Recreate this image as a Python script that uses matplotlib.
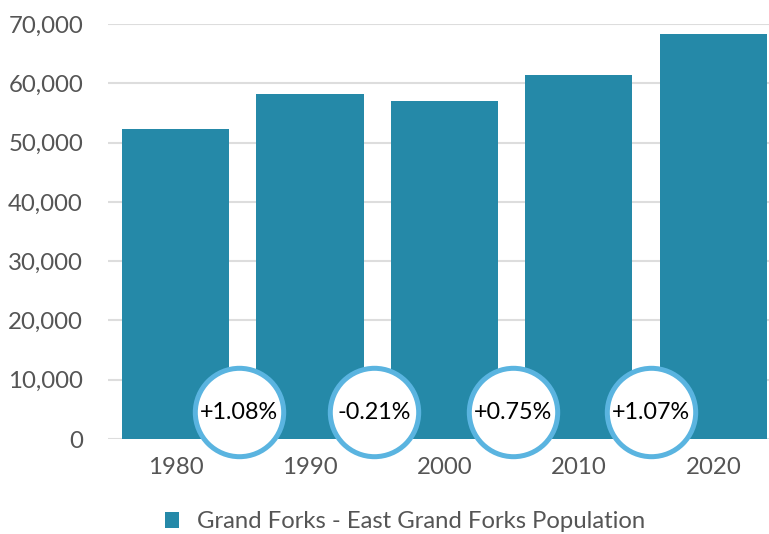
import matplotlib
matplotlib.use("Agg")
import matplotlib.pyplot as plt
from matplotlib.patches import Patch

years = ["1980", "1990", "2000", "2010", "2020"]
population = [52300, 58200, 57000, 61400, 68300]
growth_labels = ["+1.08%", "-0.21%", "+0.75%", "+1.07%"]
yticks = [0, 10000, 20000, 30000, 40000, 50000, 60000, 70000]
series_name = "Grand Forks - East Grand Forks Population"

plt.rcParams['font.family'] = ['Lato', 'DejaVu Sans']

bar_color = "#2589a8"
fig = plt.figure(figsize=(7.69, 5.34), dpi=100)
ax = fig.add_axes([108/769, 1-439/534, 1-108/769, (439-24)/534])

x = list(range(len(years)))
ax.bar(x, population, width=0.796, color=bar_color, zorder=2)
ax.set_ylim(0, 70000)
ax.set_xlim(-0.502, 4.413)
ax.set_yticks(yticks)
ax.set_yticklabels([f"{v:,}" for v in yticks])
ax.set_xticks(x)
ax.set_xticklabels(years)
ax.tick_params(axis='both', length=0, labelsize=17.3, labelcolor="#555555")
ax.tick_params(axis='y', pad=18)
ax.tick_params(axis='x', pad=13)
ax.grid(axis='y', color="#dddddd", linewidth=1.5, zorder=0)
ax.set_axisbelow(True)
for s in ax.spines.values():
    s.set_visible(False)

# small horizontal nudges of the badges relative to the gaps between bars
nudge = [-0.03, -0.026, 0.007, 0.037]
cx = [i + 0.5 + d for i, d in enumerate(nudge)]
cy = [4550] * len(growth_labels)
ax.scatter(cx, cy, s=4050, facecolor="white", edgecolor="#5ab4e0",
           linewidth=3.6, zorder=5, clip_on=False)
for xi, yi, lab in zip(cx, cy, growth_labels):
    ax.text(xi, yi, lab, ha='center', va='center', fontsize=16.8,
            color="black", zorder=6)

handle = Patch(facecolor=bar_color, edgecolor='none')
fig.legend([handle], [series_name], loc='center', bbox_to_anchor=(405/769, 1-522/534),
           frameon=False, fontsize=17.2, handlelength=0.62, handleheight=0.62,
           handletextpad=0.75, labelcolor="#555555")

fig.savefig("out.png", dpi=100)
